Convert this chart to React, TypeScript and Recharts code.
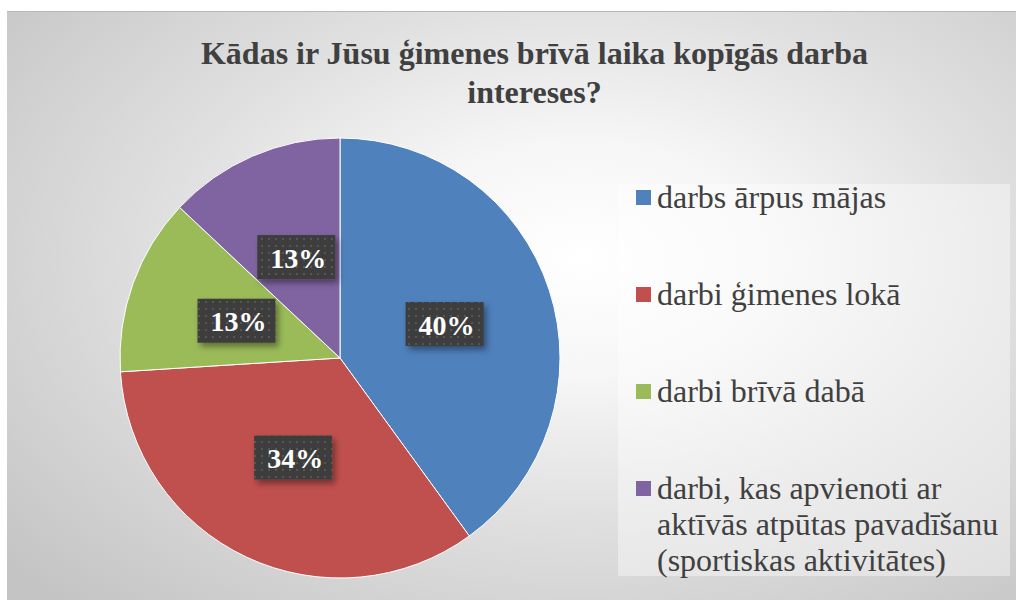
import React from "react";
import { PieChart, Pie, Cell, Legend } from "recharts";

const categories = [
  "darbs ārpus mājas",
  "darbi ģimenes lokā",
  "darbi brīvā dabā",
  "darbi, kas apvienoti ar\naktīvās atpūtas pavadīšanu\n(sportiskas aktivitātes)",
];
const values = [40, 34, 13, 13];
const colors = ["#4F81BD", "#C0504D", "#9BBB59", "#8064A2"];
const title = ["Kādas ir Jūsu ģimenes brīvā laika kopīgās darba", "intereses?"];

const data = categories.map((name, i) => ({ name, value: values[i] }));
const RADIAN = Math.PI / 180;
const FONT = '"Liberation Serif", "Times New Roman", serif';

const renderLabel = (props: any) => {
  const { cx, cy, midAngle, outerRadius, percent, index } = props;
  const r = outerRadius * 0.5;
  const x = cx + r * Math.cos(-midAngle * RADIAN);
  const y = cy + r * Math.sin(-midAngle * RADIAN);
  const w = 78;
  const h = 44;
  const pid = `dots-${index}`;
  const fid = `shadow-${index}`;
  return (
    <g>
      <defs>
        <pattern id={pid} width="7" height="7" patternUnits="userSpaceOnUse">
          <rect width="7" height="7" fill="#3d3d3d" />
          <rect x="2" y="2" width="2" height="2" fill="#575757" />
        </pattern>
        <filter id={fid} x="-20%" y="-20%" width="150%" height="160%">
          <feDropShadow dx="3" dy="4" stdDeviation="3" floodColor="#000" floodOpacity="0.4" />
        </filter>
      </defs>
      <rect x={x - w / 2} y={y - h / 2} width={w} height={h} fill={`url(#${pid})`} filter={`url(#${fid})`} />
      <text
        x={x + 2}
        y={y + 1}
        fill="#ffffff"
        textAnchor="middle"
        dominantBaseline="central"
        style={{ fontFamily: FONT, fontWeight: 700, fontSize: 28 }}
      >
        {`${Math.round(percent * 100)}%`}
      </text>
    </g>
  );
};

const renderLegend = () => (
  <div
    style={{
      position: "relative",
      width: 392,
      height: 392,
      background: "rgba(255,255,255,0.4)",
      fontFamily: FONT,
      fontSize: 32,
      lineHeight: "36px",
      color: "#404040",
    }}
  >
    {categories.map((c, i) => (
      <div key={c} style={{ position: "absolute", left: 0, top: -5 + i * 97, width: 392 }}>
        <div
          style={{
            position: "absolute",
            left: 18,
            top: 11,
            width: 15,
            height: 15,
            background: colors[i],
          }}
        />
        <div style={{ position: "absolute", left: 39, top: 0, whiteSpace: "pre", width: 360 }}>{c}</div>
      </div>
    ))}
  </div>
);

export default function App() {
  return (
    <div
      style={{
        position: "absolute",
        left: 7,
        top: 11,
        width: 1009,
        height: 589,
        background:
          "radial-gradient(ellipse 75% 80% at 57% 42%, #ffffff 0%, #f6f6f6 25%, #e0e0e0 55%, #c4c4c4 100%)",
        borderTop: "1px solid #b8b8b8",
        boxSizing: "border-box",
      }}
    >
      <div
        style={{
          position: "absolute",
          left: 0,
          top: 22,
          width: 1055,
          textAlign: "center",
          fontFamily: FONT,
          fontWeight: 700,
          fontSize: 32,
          lineHeight: "39px",
          color: "#404040",
        }}
      >
        {title[0]}
        <br />
        {title[1]}
      </div>
      <PieChart
        width={1009}
        height={588}
        margin={{ top: 0, right: 0, bottom: 0, left: 0 }}
        style={{ position: "absolute", left: 0, top: 0 }}
      >
        <Pie
          data={data}
          dataKey="value"
          nameKey="name"
          cx={333}
          cy={346}
          outerRadius={220}
          startAngle={90}
          endAngle={-270}
          stroke="#ffffff"
          strokeWidth={1}
          label={renderLabel}
          labelLine={false}
          isAnimationActive={false}
        >
          {data.map((d, i) => (
            <Cell key={d.name} fill={colors[i]} />
          ))}
        </Pie>
        <Legend
          content={renderLegend}
          wrapperStyle={{ position: "absolute", left: 611, top: 172, width: 392, height: 392 }}
        />
      </PieChart>
    </div>
  );
}
